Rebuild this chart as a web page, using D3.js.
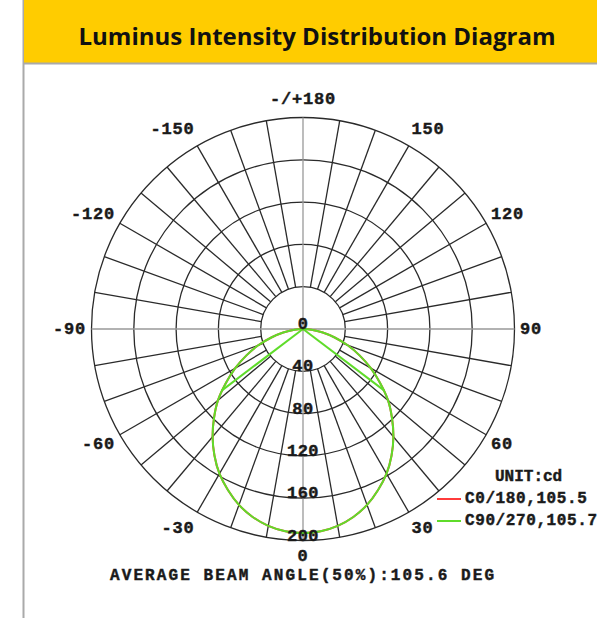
<!DOCTYPE html>
<html>
<head>
<meta charset="utf-8">
<script src="https://cdn.jsdelivr.net/npm/d3@7"></script>
<style>
  body { margin: 0; background: #fff; }
  svg { display: block; }
  .mono { font-family: "Liberation Mono", "DejaVu Sans Mono", monospace; font-weight: bold; fill: #1a1a1a; stroke: #1a1a1a; stroke-width: 0.45px; }
</style>
</head>
<body>
<svg width="597" height="618"></svg>
<script>
// chart data
const gammaAngles = [0, 5, 10, 15, 20, 25, 30, 35, 40, 45, 50, 55, 60, 65, 70, 75, 80, 85, 90];
const c0Values   = [193, 192, 189, 184, 177, 168, 158, 146, 133, 119, 105, 89, 74, 59, 45, 31, 19, 8, 0];
const c90Values  = [193, 192, 189, 184, 177, 168, 158, 146, 133, 119, 105, 89, 74, 59, 45, 31, 19, 8, 0];
const seriesNames = ["C0/180,105.5", "C90/270,105.7"];
const beamAngles = [105.5, 105.7];
const ringValues = [0, 40, 80, 120, 160, 200];
const angleLabels = [
  { a: 180, t: "-/+180" }, { a: 150, t: "150" }, { a: 120, t: "120" }, { a: 90, t: "90" },
  { a: 60, t: "60" }, { a: 30, t: "30" }, { a: 0, t: "0" }, { a: -30, t: "-30" },
  { a: -60, t: "-60" }, { a: -90, t: "-90" }, { a: -120, t: "-120" }, { a: -150, t: "-150" }
];

const svg = d3.select("svg");
const cx = 303, cy = 329;
const rad = (d) => d * Math.PI / 180;

// header
svg.append("line")
    .attr("x1", 23.5).attr("x2", 23.5).attr("y1", 0).attr("y2", 618)
    .attr("stroke", "#aaa").attr("stroke-width", 2);
svg.append("rect")
    .attr("x", 24).attr("y", 0).attr("width", 573).attr("height", 63)
    .attr("fill", "#ffcc00");
svg.append("line")
    .attr("x1", 23).attr("x2", 597).attr("y1", 63.5).attr("y2", 63.5)
    .attr("stroke", "#aaa").attr("stroke-width", 2);
svg.append("text")
    .attr("x", 317).attr("y", 35)
    .attr("text-anchor", "middle").attr("dominant-baseline", "central")
    .style("font-family", "'Open Sans', sans-serif").style("font-weight", 700)
    .style("font-size", "24px").attr("fill", "#111")
    .text("Luminus Intensity Distribution Diagram");

// scale
const r = d3.scaleLinear().domain([0, 200]).range([0, 211.5]);

const g = svg.append("g").attr("transform", `translate(${cx},${cy})`);

// rings
g.selectAll("circle.ring")
  .data(ringValues.filter(v => v > 0))
  .enter().append("circle")
    .attr("class", "ring")
    .attr("r", d => r(d))
    .attr("fill", "none")
    .attr("stroke", "#2a2a2a")
    .attr("stroke-width", 1.3);

// spokes every 10 deg, from first ring outward
const spokes = d3.range(0, 360, 10).filter(a => a % 90 !== 0);
g.selectAll("line.spoke")
  .data(spokes)
  .enter().append("line")
    .attr("class", "spoke")
    .attr("x1", d => r(40) * Math.sin(rad(d)))
    .attr("y1", d => r(40) * Math.cos(rad(d)))
    .attr("x2", d => r(200) * Math.sin(rad(d)))
    .attr("y2", d => r(200) * Math.cos(rad(d)))
    .attr("stroke", "#2a2a2a")
    .attr("stroke-width", 1.3);

// axes through the centre
g.selectAll("line.axis")
  .data([0, 90])
  .enter().append("line")
    .attr("class", "axis")
    .attr("x1", d => -r(200) * Math.sin(rad(d)))
    .attr("y1", d => -r(200) * Math.cos(rad(d)))
    .attr("x2", d => r(200) * Math.sin(rad(d)))
    .attr("y2", d => r(200) * Math.cos(rad(d)))
    .attr("stroke", "#999")
    .attr("stroke-width", 1.3);

// curves (symmetric planes, 0 deg points down)
const toPoints = (vals) => {
  const right = gammaAngles.map((a, i) => ({ a: a, v: vals[i] }));
  const left = right.slice(1).map(d => ({ a: -d.a, v: d.v })).reverse();
  return left.concat(right);
};
const radial = d3.lineRadial()
    .angle(d => Math.PI - rad(d.a))
    .radius(d => r(d.v))
    .curve(d3.curveCatmullRom);

const colors = ["#ff3b3b", "#5fdc2a"];
[c0Values, c90Values].forEach((vals, i) => {
  g.append("path")
    .attr("d", radial(toPoints(vals)))
    .attr("fill", "none")
    .attr("stroke", colors[i])
    .attr("stroke-width", 2);
});

// beam angle lines (50% of max) for the top series
const half = beamAngles[1] / 2;
const halfR = r(d3.max(c90Values) / 2);
g.selectAll("line.beam")
  .data([-half, half])
  .enter().append("line")
    .attr("x1", 0).attr("y1", 0)
    .attr("x2", d => halfR * Math.sin(rad(d)))
    .attr("y2", d => halfR * Math.cos(rad(d)))
    .attr("stroke", colors[1])
    .attr("stroke-width", 2);

// ring labels
g.selectAll("text.ringlabel")
  .data(ringValues)
  .enter().append("text")
    .attr("class", "mono")
    .attr("x", 0)
    .attr("y", d => r(d))
    .attr("text-anchor", "middle")
    .style("font-size", "17px")
    .style("letter-spacing", "0.5px")
    .text(d => d);

// angle labels: side labels hug the circle, top/bottom centred
const labelRx = 217, labelRy = 230;
const anchorFor = (a) => {
  const s = Math.round(Math.sin(rad(a)) * 1000);
  return s > 0 ? "start" : s < 0 ? "end" : "middle";
};
g.selectAll("text.anglelabel")
  .data(angleLabels)
  .enter().append("text")
    .attr("class", "mono")
    .attr("x", d => labelRx * Math.sin(rad(d.a)))
    .attr("y", d => labelRy * Math.cos(rad(d.a)) - (d.a === 0 ? 3 : 0))
    .attr("text-anchor", d => anchorFor(d.a))
    .attr("dominant-baseline", "central")
    .style("font-size", "17px")
    .style("letter-spacing", "0.8px")
    .text(d => d.t);

// legend
const legend = svg.append("g").attr("transform", "translate(437,477)");
legend.append("text")
    .attr("class", "mono")
    .attr("x", 58).attr("y", 0)
    .attr("dominant-baseline", "central")
    .style("font-size", "16px")
    .text("UNIT:cd");
seriesNames.forEach((name, i) => {
  const y = 22 + i * 22;
  legend.append("line")
    .attr("x1", 0).attr("x2", 24).attr("y1", y).attr("y2", y)
    .attr("stroke", colors[i]).attr("stroke-width", 2);
  legend.append("text")
    .attr("class", "mono")
    .attr("x", 28).attr("y", y)
    .attr("dominant-baseline", "central")
    .style("font-size", "16px")
    .style("letter-spacing", "0.6px")
    .text(name);
});

// footer
svg.append("text")
    .attr("class", "mono")
    .attr("x", 110).attr("y", 576)
    .attr("dominant-baseline", "central")
    .style("font-size", "16px")
    .style("letter-spacing", "2.1px")
    .text("AVERAGE BEAM ANGLE(50%):105.6 DEG");
</script>
</body>
</html>
